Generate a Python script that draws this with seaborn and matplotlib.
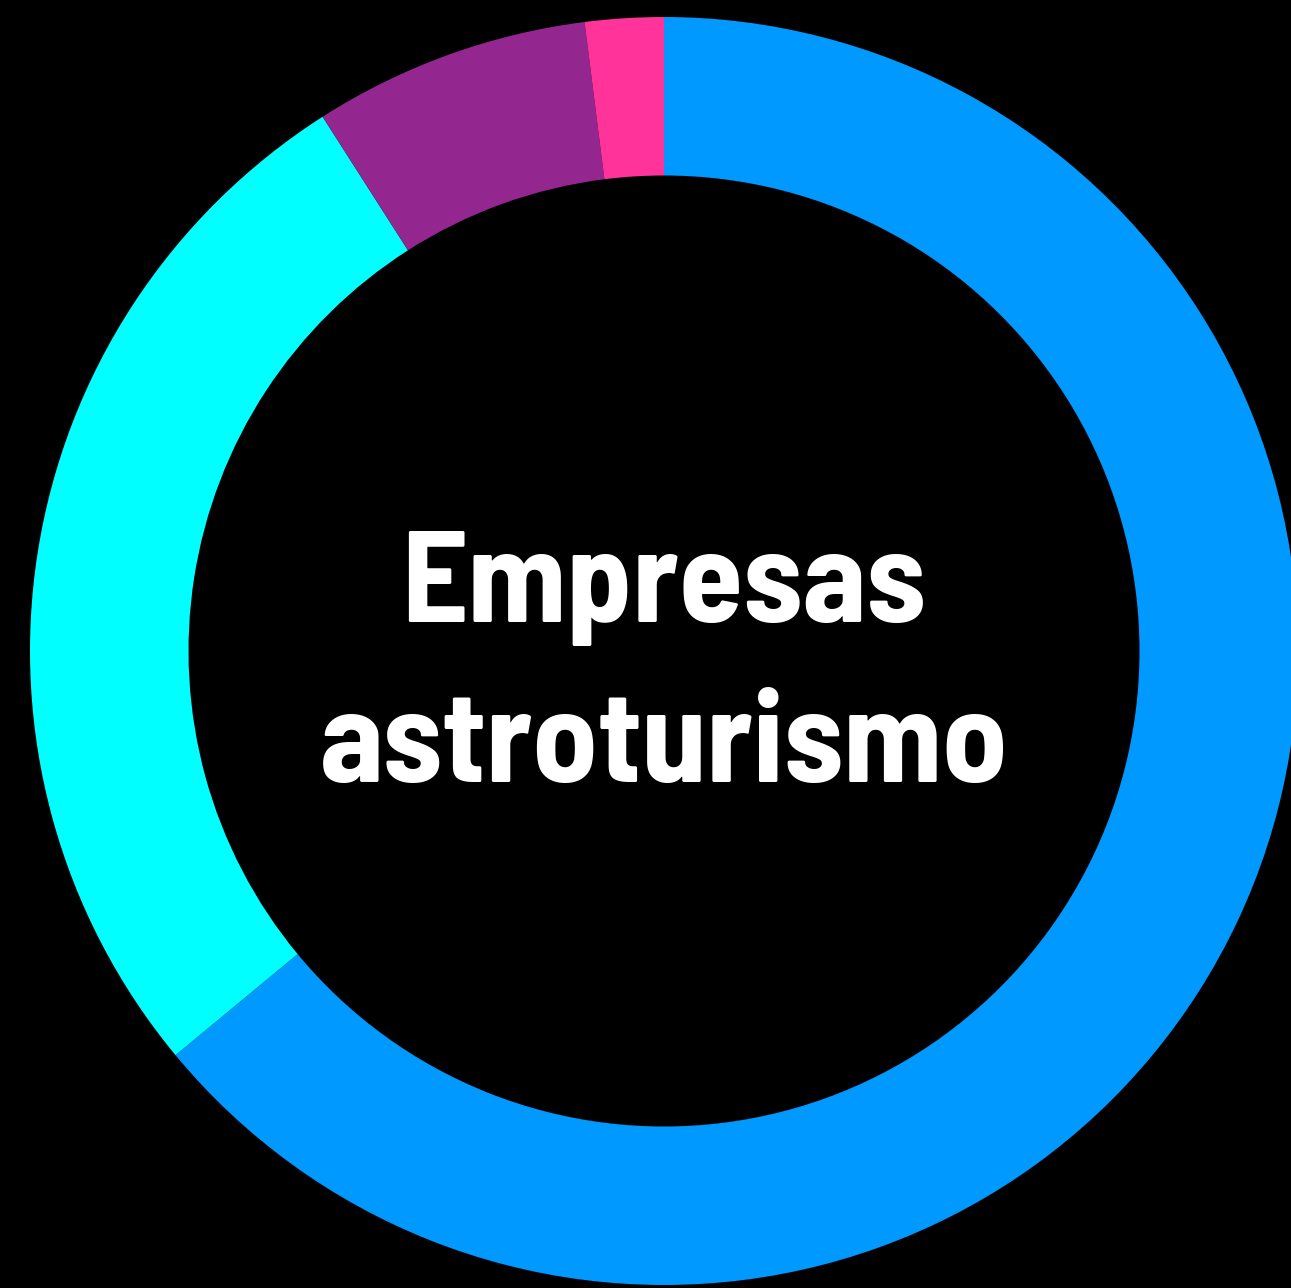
import matplotlib
matplotlib.use("Agg")
import matplotlib.pyplot as plt
import seaborn as sns

# donut segments, clockwise from 12 o'clock
categories = ["Segmento A", "Segmento B", "Segmento C", "Segmento D"]
values = [64.0, 26.95, 7.05, 2.0]
colors = ["#0099FF", "#00FFFF", "#93278F", "#FF3399"]
center_lines = ["Empresas", "astroturismo"]

sns.set_theme(style="white")
plt.rcParams['font.family'] = ['Barlow Semi Condensed', 'DejaVu Sans']

fig = plt.figure(figsize=(12.91, 12.88), dpi=100, facecolor="black")
ax = fig.add_axes([0, 0, 1, 1])
ax.set_facecolor("black")

r_px = 634
cx, cy = 664, 651
ax.pie(values, colors=colors, startangle=90, counterclock=False, radius=1,
       wedgeprops=dict(width=0.25, linewidth=0))

ax.set_xlim(-cx / r_px, (1291 - cx) / r_px)
ax.set_ylim(-(1288 - cy) / r_px, cy / r_px)
ax.set_aspect("auto")
ax.axis("off")

# baselines of the two lines (pixels from top 622 and 782)
for line, y in zip(center_lines, [(cy - 622) / r_px, (cy - 782) / r_px]):
    ax.text(0, y, line, ha="center", va="baseline", color="white",
            fontsize=94, fontweight="bold")

plt.savefig("out.png", dpi=100, facecolor="black")
